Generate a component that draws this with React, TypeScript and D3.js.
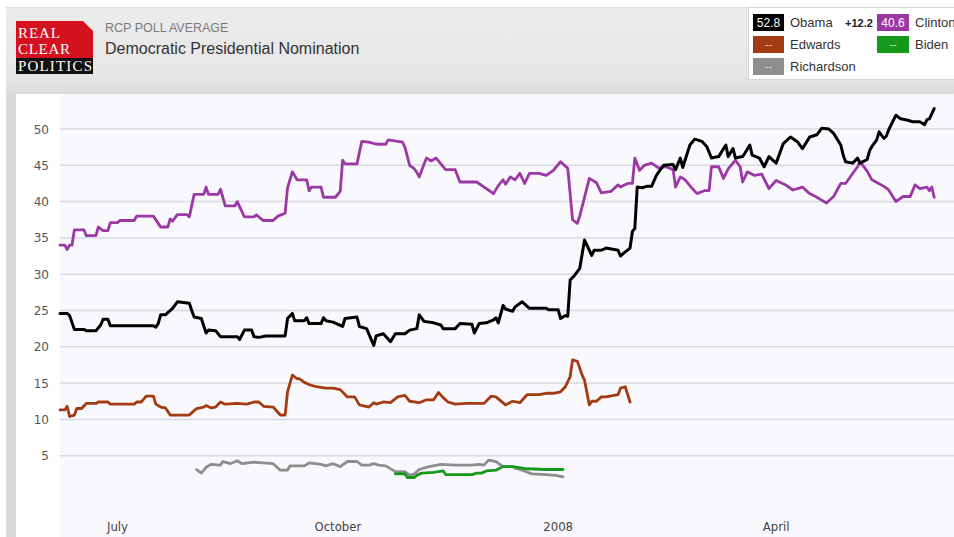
import React from "react";
import * as d3 from "d3";

type Pt = [string, number];

const yTicks = [5, 10, 15, 20, 25, 30, 35, 40, 45, 50];
const xTickDates = ["2007-07-01", "2007-10-01", "2008-01-01", "2008-04-01"];
const xTickLabels = ["July", "October", "2008", "April"];

const obama: Pt[] = [
  ["2007-06-07", 24.6], ["2007-06-10", 24.6], ["2007-06-11", 24.3], ["2007-06-13", 22.4], ["2007-06-17", 22.4],
  ["2007-06-18", 22.2], ["2007-06-22", 22.2], ["2007-06-24", 23.0], ["2007-06-25", 23.8], ["2007-06-27", 23.8],
  ["2007-06-28", 22.9], ["2007-07-10", 22.9], ["2007-07-16", 22.9], ["2007-07-17", 22.7], ["2007-07-18", 23.2],
  ["2007-07-19", 24.4], ["2007-07-21", 24.4], ["2007-07-24", 25.3], ["2007-07-26", 26.2], ["2007-07-31", 26.0],
  ["2007-08-01", 25.0], ["2007-08-02", 24.1], ["2007-08-05", 23.9], ["2007-08-07", 21.9], ["2007-08-08", 22.3],
  ["2007-08-11", 22.2], ["2007-08-13", 21.4], ["2007-08-20", 21.4], ["2007-08-21", 21.0], ["2007-08-23", 22.3],
  ["2007-08-26", 22.3], ["2007-08-27", 21.4], ["2007-08-29", 21.3], ["2007-09-01", 21.5], ["2007-09-09", 21.5],
  ["2007-09-10", 23.9], ["2007-09-12", 24.6], ["2007-09-13", 23.6], ["2007-09-17", 23.6], ["2007-09-18", 24.0],
  ["2007-09-19", 23.2], ["2007-09-24", 23.2], ["2007-09-25", 24.0], ["2007-09-26", 23.6], ["2007-09-29", 23.4],
  ["2007-10-03", 22.8], ["2007-10-04", 23.9], ["2007-10-09", 24.1], ["2007-10-10", 22.8], ["2007-10-13", 22.5],
  ["2007-10-16", 20.2], ["2007-10-17", 21.5], ["2007-10-20", 21.8], ["2007-10-23", 20.7], ["2007-10-25", 21.8],
  ["2007-10-29", 21.8], ["2007-10-31", 22.3], ["2007-11-03", 22.5], ["2007-11-04", 24.4], ["2007-11-06", 23.5],
  ["2007-11-10", 23.3], ["2007-11-13", 23.0], ["2007-11-14", 22.5], ["2007-11-19", 22.5], ["2007-11-21", 23.2],
  ["2007-11-26", 23.1], ["2007-11-27", 21.9], ["2007-11-29", 23.2], ["2007-12-02", 23.3], ["2007-12-05", 23.7],
  ["2007-12-06", 24.0], ["2007-12-07", 23.3], ["2007-12-09", 25.7], ["2007-12-10", 25.2], ["2007-12-13", 24.9],
  ["2007-12-14", 25.5], ["2007-12-17", 26.2], ["2007-12-20", 25.3], ["2007-12-27", 25.3], ["2007-12-28", 25.1],
  ["2008-01-01", 25.1], ["2008-01-02", 23.9], ["2008-01-04", 24.3], ["2008-01-05", 24.2], ["2008-01-06", 29.2],
  ["2008-01-08", 29.9], ["2008-01-10", 30.8], ["2008-01-12", 34.7], ["2008-01-13", 34.0], ["2008-01-15", 32.6],
  ["2008-01-16", 33.3], ["2008-01-19", 33.3], ["2008-01-21", 33.6], ["2008-01-26", 33.3], ["2008-01-27", 32.5],
  ["2008-01-28", 32.8], ["2008-01-31", 33.6], ["2008-02-01", 35.9], ["2008-02-02", 36.3], ["2008-02-03", 42.0],
  ["2008-02-05", 41.9], ["2008-02-07", 42.1], ["2008-02-09", 42.1], ["2008-02-11", 43.6], ["2008-02-12", 44.1],
  ["2008-02-14", 45.0], ["2008-02-18", 45.1], ["2008-02-19", 44.4], ["2008-02-21", 46.0], ["2008-02-22", 44.7],
  ["2008-02-25", 47.8], ["2008-02-27", 48.6], ["2008-03-01", 48.3], ["2008-03-03", 47.6], ["2008-03-05", 46.0],
  ["2008-03-08", 46.2], ["2008-03-11", 47.8], ["2008-03-12", 46.2], ["2008-03-14", 47.3], ["2008-03-15", 46.0],
  ["2008-03-18", 46.2], ["2008-03-19", 46.7], ["2008-03-21", 47.8], ["2008-03-22", 46.4], ["2008-03-25", 46.0],
  ["2008-03-27", 44.8], ["2008-03-29", 46.2], ["2008-04-01", 45.3], ["2008-04-04", 48.0], ["2008-04-07", 48.9],
  ["2008-04-10", 48.2], ["2008-04-12", 47.3], ["2008-04-15", 48.9], ["2008-04-18", 49.2], ["2008-04-20", 50.1],
  ["2008-04-23", 50.0], ["2008-04-25", 49.4], ["2008-04-28", 47.8], ["2008-04-29", 46.4], ["2008-04-30", 45.5],
  ["2008-05-03", 45.3], ["2008-05-05", 46.0], ["2008-05-06", 45.3], ["2008-05-09", 45.8], ["2008-05-10", 47.0],
  ["2008-05-11", 47.6], ["2008-05-13", 48.5], ["2008-05-14", 49.6], ["2008-05-16", 48.7], ["2008-05-17", 49.0],
  ["2008-05-18", 49.9], ["2008-05-21", 51.9], ["2008-05-23", 51.4], ["2008-05-26", 51.2], ["2008-05-28", 51.0],
  ["2008-05-31", 51.0], ["2008-06-02", 50.6], ["2008-06-03", 51.3], ["2008-06-04", 51.4], ["2008-06-06", 52.8],
];

const clinton: Pt[] = [
  ["2007-06-07", 34.0], ["2007-06-09", 34.0], ["2007-06-10", 33.4], ["2007-06-11", 34.0], ["2007-06-12", 34.0],
  ["2007-06-13", 36.1], ["2007-06-17", 36.1], ["2007-06-18", 35.3], ["2007-06-22", 35.3], ["2007-06-23", 36.5],
  ["2007-06-25", 36.0], ["2007-06-27", 36.0], ["2007-06-28", 37.1], ["2007-07-01", 37.1], ["2007-07-02", 37.4],
  ["2007-07-08", 37.4], ["2007-07-09", 38.0], ["2007-07-16", 38.0], ["2007-07-18", 37.0], ["2007-07-19", 36.5],
  ["2007-07-22", 36.5], ["2007-07-23", 37.6], ["2007-07-24", 37.3], ["2007-07-26", 38.2], ["2007-07-30", 38.2],
  ["2007-07-31", 37.9], ["2007-08-02", 41.0], ["2007-08-06", 41.0], ["2007-08-07", 42.0], ["2007-08-08", 41.0],
  ["2007-08-12", 41.0], ["2007-08-13", 41.7], ["2007-08-15", 39.4], ["2007-08-19", 39.4], ["2007-08-20", 40.0],
  ["2007-08-21", 39.3], ["2007-08-23", 37.9], ["2007-08-27", 37.9], ["2007-08-28", 38.2], ["2007-08-30", 37.6],
  ["2007-08-31", 37.4], ["2007-09-04", 37.4], ["2007-09-06", 38.0], ["2007-09-09", 38.4], ["2007-09-10", 41.9],
  ["2007-09-12", 44.1], ["2007-09-14", 43.0], ["2007-09-18", 43.0], ["2007-09-19", 41.5], ["2007-09-20", 42.0],
  ["2007-09-24", 42.0], ["2007-09-25", 40.6], ["2007-09-30", 40.6], ["2007-10-02", 41.4], ["2007-10-03", 45.7],
  ["2007-10-04", 45.2], ["2007-10-09", 45.2], ["2007-10-11", 48.3], ["2007-10-14", 48.2], ["2007-10-16", 48.0],
  ["2007-10-18", 47.9], ["2007-10-21", 47.9], ["2007-10-22", 48.5], ["2007-10-28", 48.2], ["2007-10-29", 47.5],
  ["2007-10-31", 45.0], ["2007-11-02", 44.5], ["2007-11-03", 44.0], ["2007-11-04", 43.4], ["2007-11-05", 44.3],
  ["2007-11-07", 46.0], ["2007-11-09", 45.6], ["2007-11-11", 46.0], ["2007-11-12", 45.6], ["2007-11-15", 44.4],
  ["2007-11-19", 44.4], ["2007-11-21", 42.7], ["2007-11-28", 42.7], ["2007-12-05", 41.1], ["2007-12-07", 42.2],
  ["2007-12-09", 43.0], ["2007-12-10", 42.4], ["2007-12-12", 43.4], ["2007-12-14", 43.0], ["2007-12-16", 43.9],
  ["2007-12-18", 42.5], ["2007-12-20", 43.9], ["2007-12-24", 43.9], ["2007-12-27", 43.6], ["2007-12-30", 44.3],
  ["2008-01-02", 45.5], ["2008-01-05", 44.6], ["2008-01-07", 37.5], ["2008-01-09", 37.0], ["2008-01-10", 38.0],
  ["2008-01-14", 43.2], ["2008-01-17", 42.6], ["2008-01-19", 41.2], ["2008-01-23", 41.4], ["2008-01-26", 42.3],
  ["2008-01-27", 42.0], ["2008-01-30", 42.5], ["2008-02-01", 42.5], ["2008-02-02", 46.0], ["2008-02-04", 44.3],
  ["2008-02-06", 45.0], ["2008-02-09", 45.3], ["2008-02-12", 44.6], ["2008-02-15", 44.8], ["2008-02-18", 44.4],
  ["2008-02-19", 42.0], ["2008-02-21", 43.4], ["2008-02-23", 43.0], ["2008-02-26", 41.8], ["2008-02-28", 41.1],
  ["2008-03-02", 41.5], ["2008-03-04", 41.5], ["2008-03-05", 44.8], ["2008-03-08", 44.8], ["2008-03-10", 43.2],
  ["2008-03-12", 44.5], ["2008-03-15", 45.7], ["2008-03-17", 44.8], ["2008-03-18", 42.7], ["2008-03-20", 44.1],
  ["2008-03-23", 43.6], ["2008-03-26", 43.8], ["2008-03-29", 41.8], ["2008-04-01", 42.9], ["2008-04-05", 42.3],
  ["2008-04-08", 41.6], ["2008-04-12", 42.0], ["2008-04-15", 41.1], ["2008-04-18", 40.6], ["2008-04-20", 40.2],
  ["2008-04-22", 39.8], ["2008-04-25", 40.7], ["2008-04-28", 42.5], ["2008-04-30", 42.5], ["2008-05-03", 43.9],
  ["2008-05-05", 44.8], ["2008-05-06", 45.5], ["2008-05-09", 44.2], ["2008-05-11", 43.0], ["2008-05-16", 42.1],
  ["2008-05-18", 41.6], ["2008-05-21", 40.0], ["2008-05-24", 40.7], ["2008-05-27", 40.7], ["2008-05-29", 42.3],
  ["2008-05-31", 41.8], ["2008-06-03", 42.0], ["2008-06-04", 41.5], ["2008-06-05", 42.0], ["2008-06-06", 40.6],
];

const edwards: Pt[] = [
  ["2007-06-07", 11.3], ["2007-06-09", 11.3], ["2007-06-10", 11.8], ["2007-06-11", 10.4], ["2007-06-13", 10.6],
  ["2007-06-14", 11.5], ["2007-06-16", 11.5], ["2007-06-18", 12.2], ["2007-06-22", 12.2], ["2007-06-23", 12.4],
  ["2007-06-27", 12.4], ["2007-06-28", 12.1], ["2007-07-08", 12.1], ["2007-07-09", 12.4], ["2007-07-11", 12.4],
  ["2007-07-13", 13.2], ["2007-07-16", 13.2], ["2007-07-17", 12.1], ["2007-07-19", 11.7], ["2007-07-21", 11.6],
  ["2007-07-23", 10.6], ["2007-07-31", 10.6], ["2007-08-01", 10.9], ["2007-08-03", 11.5], ["2007-08-06", 11.7],
  ["2007-08-07", 11.9], ["2007-08-09", 11.6], ["2007-08-11", 11.7], ["2007-08-13", 12.4], ["2007-08-15", 12.1],
  ["2007-08-20", 12.2], ["2007-08-24", 12.1], ["2007-08-27", 12.4], ["2007-08-29", 12.4], ["2007-08-31", 11.8],
  ["2007-09-04", 11.7], ["2007-09-07", 10.6], ["2007-09-09", 10.6], ["2007-09-10", 13.8], ["2007-09-12", 16.1],
  ["2007-09-14", 15.6], ["2007-09-15", 15.6], ["2007-09-17", 15.1], ["2007-09-19", 14.8], ["2007-09-22", 14.5],
  ["2007-09-26", 14.3], ["2007-09-29", 14.3], ["2007-10-02", 14.1], ["2007-10-05", 13.1], ["2007-10-08", 13.1],
  ["2007-10-10", 12.0], ["2007-10-14", 11.7], ["2007-10-16", 12.3], ["2007-10-17", 12.1], ["2007-10-20", 12.4],
  ["2007-10-23", 12.3], ["2007-10-26", 13.1], ["2007-10-29", 13.3], ["2007-10-31", 12.5], ["2007-11-04", 12.3],
  ["2007-11-07", 12.7], ["2007-11-10", 12.7], ["2007-11-12", 13.7], ["2007-11-14", 13.0], ["2007-11-16", 12.4],
  ["2007-11-19", 12.1], ["2007-11-24", 12.2], ["2007-12-01", 12.2], ["2007-12-04", 13.2], ["2007-12-06", 13.1],
  ["2007-12-10", 12.0], ["2007-12-13", 12.5], ["2007-12-16", 12.3], ["2007-12-19", 13.4], ["2007-12-24", 13.4],
  ["2007-12-27", 13.6], ["2007-12-30", 13.6], ["2008-01-02", 13.8], ["2008-01-04", 14.5], ["2008-01-06", 15.9],
  ["2008-01-07", 18.2], ["2008-01-09", 18.0], ["2008-01-11", 16.1], ["2008-01-12", 15.4], ["2008-01-14", 12.0],
  ["2008-01-15", 12.5], ["2008-01-17", 12.5], ["2008-01-19", 13.1], ["2008-01-21", 13.1], ["2008-01-26", 13.4],
  ["2008-01-27", 14.3], ["2008-01-29", 14.5], ["2008-01-31", 12.4],
];

const biden: Pt[] = [
  ["2007-10-25", 2.5], ["2007-10-29", 2.5], ["2007-10-30", 2.0], ["2007-11-02", 2.0], ["2007-11-03", 2.3],
  ["2007-11-05", 2.6], ["2007-11-10", 2.7], ["2007-11-14", 2.9], ["2007-11-15", 2.4], ["2007-11-26", 2.4],
  ["2007-11-28", 2.6], ["2007-11-30", 2.6], ["2007-12-02", 2.9], ["2007-12-06", 3.0], ["2007-12-09", 3.5],
  ["2007-12-13", 3.5], ["2007-12-19", 3.2], ["2007-12-27", 3.1], ["2008-01-03", 3.1],
];

const richardson: Pt[] = [
  ["2007-08-03", 3.1], ["2007-08-05", 2.6], ["2007-08-07", 3.4], ["2007-08-09", 3.8], ["2007-08-13", 3.7],
  ["2007-08-14", 4.2], ["2007-08-17", 3.9], ["2007-08-20", 4.3], ["2007-08-22", 3.9], ["2007-08-27", 4.1],
  ["2007-08-31", 4.0], ["2007-09-04", 3.9], ["2007-09-07", 3.0], ["2007-09-10", 3.0], ["2007-09-11", 3.6],
  ["2007-09-17", 3.6], ["2007-09-19", 4.0], ["2007-09-24", 3.8], ["2007-09-26", 3.6], ["2007-09-29", 3.9],
  ["2007-10-02", 3.5], ["2007-10-05", 4.2], ["2007-10-09", 4.2], ["2007-10-11", 3.7], ["2007-10-14", 3.7],
  ["2007-10-16", 3.9], ["2007-10-18", 3.7], ["2007-10-21", 3.6], ["2007-10-25", 2.8], ["2007-10-29", 2.8],
  ["2007-10-31", 2.3], ["2007-11-02", 2.5], ["2007-11-04", 3.1], ["2007-11-08", 3.5], ["2007-11-13", 3.8],
  ["2007-11-19", 3.7], ["2007-11-26", 3.7], ["2007-11-29", 3.8], ["2007-12-01", 3.7], ["2007-12-03", 4.4],
  ["2007-12-06", 4.2], ["2007-12-09", 3.5], ["2007-12-13", 3.5], ["2007-12-14", 3.3], ["2007-12-17", 3.0],
  ["2007-12-21", 2.5], ["2007-12-27", 2.4], ["2007-12-31", 2.3], ["2008-01-03", 2.1],
];

const seriesNames = ["Richardson", "Biden", "Edwards", "Clinton", "Obama"];
const seriesColors = ["#8e8e8e", "#14991a", "#a33a12", "#9b38a3", "#000000"];
const seriesData = [richardson, biden, edwards, clinton, obama];

const parse = d3.timeParse("%Y-%m-%d");

export default function App() {
  const W = 954;
  const H = 537;
  const x = d3.scaleTime()
    .domain([parse("2007-06-07") as Date, parse("2008-06-08") as Date])
    .range([60, 939]);
  const y = d3.scaleLinear().domain([0, 50]).range([492, 129]);
  const line = d3.line<Pt>()
    .x((d) => x(parse(d[0]) as Date))
    .y((d) => y(d[1]));

  const sans = "'Liberation Sans', Arial, sans-serif";
  const serif = "'Liberation Serif', 'Times New Roman', serif";

  const lastObama = obama[obama.length - 1][1];
  const lastClinton = clinton[clinton.length - 1][1];
  const spread = (lastObama - lastClinton).toFixed(1);

  return (
    <div style={{ position: "absolute", left: 0, top: 0, width: W, height: H, overflow: "hidden" }}>
      <svg width={W} height={H} style={{ display: "block" }}>
        <defs>
          <linearGradient id="hdr" x1="0" y1="0" x2="0" y2="1">
            <stop offset="0" stopColor="#ececec" />
            <stop offset="0.8" stopColor="#e6e6e6" />
            <stop offset="1" stopColor="#dcdcdc" />
          </linearGradient>
          <clipPath id="plotclip">
            <rect x={16} y={94} width={W - 16} height={H - 94} />
          </clipPath>
        </defs>
        <rect x={0} y={0} width={W} height={H} fill="#ffffff" />
        {/* header band */}
        <rect x={6} y={7} width={W - 6} height={87} fill="url(#hdr)" />
        <rect x={6} y={7} width={W - 6} height={1} fill="#e0e0e0" />
        {/* left strip */}
        <rect x={6} y={94} width={10} height={H - 94} fill="#dadada" />
        {/* content area */}
        <rect x={16} y={94} width={W - 16} height={H - 94} fill="#ffffff" />
        <rect x={60} y={94} width={W - 60} height={H - 94} fill="#f9f9fd" />

        {/* logo */}
        <path d="M16,21 L83,21 L93,31 L93,60 L16,60 Z" fill="#d4111e" />
        <rect x={16} y={58} width={77} height={16} fill="#111111" />
        <text x={18} y={38} fill="#ffffff" fontFamily={serif} fontSize={15} textLength={42}>REAL</text>
        <text x={18} y={54} fill="#ffffff" fontFamily={serif} fontSize={15} textLength={52}>CLEAR</text>
        <text x={18} y={71} fill="#ffffff" fontFamily={serif} fontSize={15} textLength={74}>POLITICS</text>

        {/* titles */}
        <text x={105} y={32} fill="#7a7a7a" fontFamily={sans} fontSize={12.5}>RCP POLL AVERAGE</text>
        <text x={105} y={54} fill="#333333" fontFamily={sans} fontSize={16}>Democratic Presidential Nomination</text>

        {/* legend */}
        <rect x={748.5} y={7.5} width={W} height={72} fill="#ffffff" stroke="#d4d4d4" />
        <g fontFamily={sans} fontSize={13}>
          <rect x={753} y={14} width={31} height={17} fill="#000000" />
          <text x={768.5} y={27} fill="#ffffff" fontSize={12} textAnchor="middle">{lastObama.toFixed(1)}</text>
          <text x={790} y={27} fill="#333333">Obama</text>
          <text x={845} y={27} fill="#222222" fontSize={11} fontWeight="bold">+{spread}</text>
          <rect x={877} y={14} width={32} height={17} fill="#9b38a3" />
          <text x={893} y={27} fill="#ffffff" fontSize={12} textAnchor="middle">{lastClinton.toFixed(1)}</text>
          <text x={915} y={27} fill="#333333">Clinton</text>

          <rect x={753} y={36} width={31} height={17} fill="#a33a12" />
          <text x={768.5} y={48} fill="#f0d0c0" fontSize={11} textAnchor="middle">--</text>
          <text x={790} y={49} fill="#333333">Edwards</text>
          <rect x={877} y={36} width={32} height={17} fill="#14991a" />
          <text x={893} y={48} fill="#c8eec8" fontSize={11} textAnchor="middle">--</text>
          <text x={915} y={49} fill="#333333">Biden</text>

          <rect x={753} y={58} width={31} height={17} fill="#8e8e8e" />
          <text x={768.5} y={70} fill="#dddddd" fontSize={11} textAnchor="middle">--</text>
          <text x={790} y={71} fill="#333333">Richardson</text>
        </g>

        {/* grid */}
        {yTicks.map((t) => (
          <line key={t} x1={60} x2={W} y1={y(t)} y2={y(t)} stroke="#d8d8e2" strokeWidth={1.5} />
        ))}
        {yTicks.map((t) => (
          <text key={"l" + t} x={49} y={y(t) + 4.5} textAnchor="end" fill="#555555"
            fontFamily="'DejaVu Sans', Verdana, sans-serif" fontSize={12}>{t}</text>
        ))}
        {xTickDates.map((d, i) => (
          <text key={d} x={x(parse(d) as Date)} y={531} textAnchor="middle" fill="#444444"
            fontFamily="'Liberation Sans Narrow', 'DejaVu Sans Condensed', 'Open Sans', sans-serif" fontSize={13}>
            {xTickLabels[i]}
          </text>
        ))}

        {/* lines */}
        <g clipPath="url(#plotclip)">
          {seriesData.map((s, i) => (
            <path key={seriesNames[i]} d={line(s) || ""} fill="none" stroke={seriesColors[i]}
              strokeWidth={seriesNames[i] === "Obama" ? 3 : 2.8} strokeLinejoin="round" strokeLinecap="round" />
          ))}
        </g>
      </svg>
    </div>
  );
}
